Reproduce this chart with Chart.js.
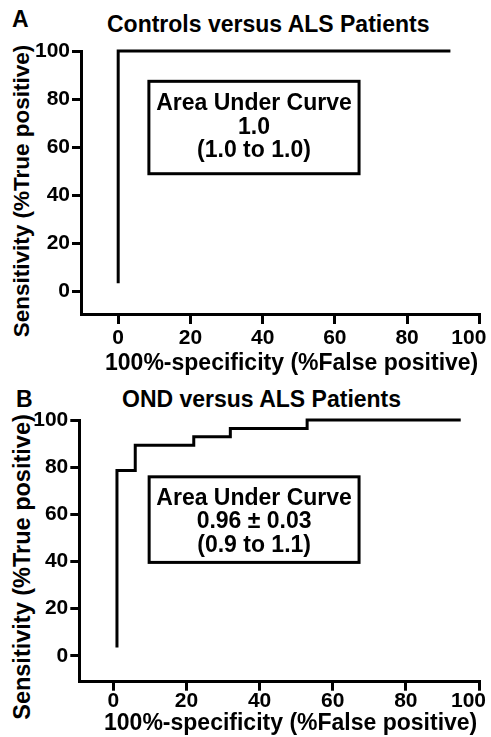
<!DOCTYPE html>
<html>
<head>
<meta charset="utf-8">
<script src="https://cdn.jsdelivr.net/npm/chart.js@4"></script>
<style>
body { margin: 0; background: #fff; width: 491px; height: 737px; position: relative; overflow: hidden;
       font-family: "Liberation Sans", Arial, sans-serif; font-weight: bold; color: #000; }
canvas { position: absolute; left: 0; }
.lbl { position: absolute; white-space: nowrap; }
.ytitle { position: absolute; white-space: nowrap; transform: translate(-50%, -50%) rotate(-90deg); }
</style>
</head>
<body>
<div class="lbl" style="left:12px;top:8px;font-size:23px;line-height:23px">A</div>
<div class="lbl" style="left:107px;top:13px;font-size:23px;line-height:23px">Controls versus ALS Patients</div>
<div class="ytitle" style="left:22px;top:191px;font-size:22.5px;line-height:22px">Sensitivity (%True positive)</div>
<canvas id="rocA" width="491" height="380" style="top:0"></canvas>

<div class="lbl" style="left:16px;top:388px;font-size:23px;line-height:23px">B</div>
<div class="lbl" style="left:122px;top:388px;font-size:23px;line-height:23px">OND versus ALS Patients</div>
<div class="ytitle" style="left:22px;top:567px;font-size:23.5px;line-height:23px">Sensitivity (%True positive)</div>
<canvas id="rocB" width="491" height="367" style="top:370px"></canvas>

<script>
Chart.defaults.font.family = '"Liberation Sans", Arial, sans-serif';
Chart.defaults.font.weight = 'bold';
Chart.defaults.color = '#000';

// A: controls vs ALS (ROC operating points, % false positive / % true positive)
const fprA = [0, 0, 92];
const tprA = [3.5, 100, 100];
const aucA = ['Area Under Curve', '1.0', '(1.0 to 1.0)'];

// B: OND vs ALS
const fprB = [1, 1, 6, 22, 32, 53, 95];
const tprB = [3.5, 78.6, 89.3, 92.9, 96.4, 100, 100];
const aucB = ['Area Under Curve', '0.96 \u00b1 0.03', '(0.9 to 1.1)'];

const xTicks = [0, 20, 40, 60, 80, 100];
const yTicks = [0, 20, 40, 60, 80, 100];

// box with the AUC text, placed in data units
const aucBox = {
    id: 'aucBox',
    afterDatasetsDraw(chart, args, opts) {
        const ctx = chart.ctx, x = chart.scales.x, y = chart.scales.y;
        const l = x.getPixelForValue(opts.x0), r = x.getPixelForValue(opts.x1);
        const t = y.getPixelForValue(opts.y1), b = y.getPixelForValue(opts.y0);
        ctx.save();
        ctx.lineWidth = 3;
        ctx.strokeStyle = '#000';
        ctx.strokeRect(l, t, r - l, b - t);
        ctx.font = 'bold 23px "Liberation Sans", Arial, sans-serif';
        ctx.fillStyle = '#000';
        ctx.textAlign = 'center';
        ctx.textBaseline = 'middle';
        opts.lines.forEach((s, i) => ctx.fillText(s, (l + r) / 2, t + opts.first + i * 23.5));
        ctx.restore();
    }
};

function rocChart(id, fpr, tpr, lines, p) {
    return new Chart(document.getElementById(id), {
        type: 'line',
        data: {
            datasets: [{
                data: fpr.map((v, i) => ({x: v, y: tpr[i]})),
                stepped: 'before',
                borderColor: '#000',
                borderWidth: 3,
                borderJoinStyle: 'miter',
                pointRadius: 0,
                fill: false,
                clip: false
            }]
        },
        plugins: [aucBox],
        options: {
            responsive: false,
            animation: false,
            layout: {padding: {top: p.top, right: p.right, left: 0, bottom: 0}},
            plugins: {
                legend: {display: false},
                tooltip: {enabled: false},
                aucBox: {x0: p.box[0], x1: p.box[1], y0: p.box[2], y1: p.box[3], first: p.first, lines: lines}
            },
            scales: {
                x: {
                    type: 'linear', min: p.xMin, max: 100,
                    afterBuildTicks: s => { s.ticks = xTicks.map(v => ({value: v})); },
                    afterFit: s => { s.height = p.xHeight; s.paddingLeft = 0; s.paddingRight = 0; },
                    grid: {drawOnChartArea: false, color: '#000', lineWidth: 3, tickLength: p.xTick},
                    border: {color: '#000', width: 3},
                    ticks: {
                        font: {size: 21, weight: 'bold'}, padding: p.xPad, maxRotation: 0, autoSkip: false,
                        callback: v => v === 100 ? '100\u2003' : String(v)
                    },
                    title: {
                        display: true, text: '\u2003100%-specificity (%False positive)',
                        font: {size: 23, weight: 'bold'}, padding: {top: 0, bottom: p.xTitlePad}
                    }
                },
                y: {
                    type: 'linear', min: p.yMin, max: 100,
                    afterBuildTicks: s => { s.ticks = yTicks.map(v => ({value: v})); },
                    afterFit: s => { s.width = p.yWidth; s.paddingTop = 0; s.paddingBottom = 0; },
                    grid: {drawOnChartArea: false, color: '#000', lineWidth: 3, tickLength: 9},
                    border: {color: '#000', width: 3},
                    ticks: {font: {size: 21, weight: 'bold'}, padding: 2, autoSkip: false},
                    title: {display: false}
                }
            }
        }
    });
}

const chartA = rocChart('rocA', fprA, tprA, aucA, {
    top: 51, right: 11.7, yWidth: 81, xHeight: 66, xMin: -10.3, yMin: -9.3,
    xTick: 10, xPad: 2, xTitlePad: 3, box: [8.5, 66.7, 49, 87.4], first: 22.5
});
const chartB = rocChart('rocB', fprB, tprB, aucB, {
    top: 50, right: 12, yWidth: 79.3, xHeight: 55.3, xMin: -9.3, yMin: -11,
    xTick: 9, xPad: -2, xTitlePad: 0, box: [9.8, 67.2, 39.6, 75.9], first: 21.5
});
</script>
</body>
</html>
